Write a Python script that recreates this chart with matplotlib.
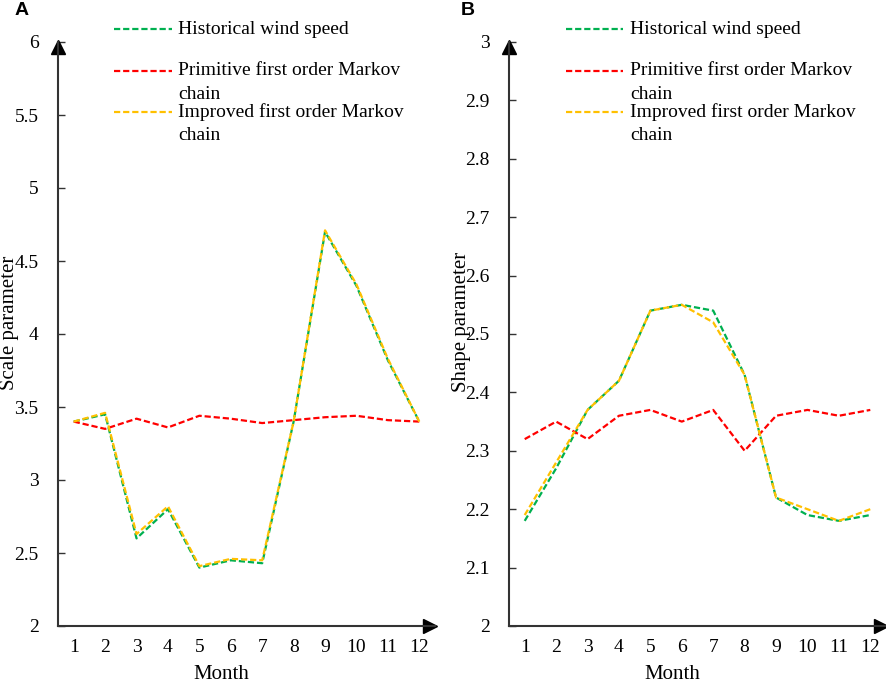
import numpy as np
import matplotlib
matplotlib.use("Agg")
import matplotlib.pyplot as plt
from matplotlib.lines import Line2D
from matplotlib.ticker import FormatStrFormatter
import matplotlib.transforms as mtrans

plt.rcParams['font.family'] = ['Liberation Serif', 'DejaVu Serif']

months = list(range(1, 13))

# panel A: scale parameter
scale_hist = [3.40, 3.45, 2.60, 2.80, 2.40, 2.45, 2.43, 3.40, 4.70, 4.33, 3.82, 3.40]
scale_prim = [3.40, 3.35, 3.42, 3.36, 3.44, 3.42, 3.39, 3.41, 3.43, 3.44, 3.41, 3.40]
scale_impr = [3.40, 3.46, 2.63, 2.82, 2.41, 2.46, 2.45, 3.40, 4.71, 4.34, 3.83, 3.40]

# panel B: shape parameter
shape_hist = [2.18, 2.27, 2.37, 2.42, 2.54, 2.55, 2.54, 2.43, 2.22, 2.19, 2.18, 2.19]
shape_prim = [2.32, 2.35, 2.32, 2.36, 2.37, 2.35, 2.37, 2.30, 2.36, 2.37, 2.36, 2.37]
shape_impr = [2.19, 2.28, 2.37, 2.42, 2.54, 2.55, 2.52, 2.43, 2.22, 2.20, 2.18, 2.20]

labels = ["Historical wind speed",
          "Primitive first order Markov\nchain",
          "Improved first order Markov\nchain"]
colors = ["#00B050", "#FF0000", "#FFC000"]

W, H = 886, 682
fig = plt.figure(figsize=(W / 100, H / 100), dpi=100)

panels = [
    dict(left=58, right=435, data=[scale_hist, scale_prim, scale_impr],
         ylim=(2, 6), step=0.5, ylabel="Scale parameter", tag="A", tagx=15,
         leg_x0=114, leg_x1=172, txt_x=178, ylab_x=-0.103),
    dict(left=509, right=886, data=[shape_hist, shape_prim, shape_impr],
         ylim=(2, 3), step=0.1, ylabel="Shape parameter", tag="B", tagx=461,
         leg_x0=566, leg_x1=623, txt_x=630, ylab_x=-0.100),
]

top_px, bot_px = 42, 626
spine_col = "#333333"
dash = (2.8, 1.3)

for p in panels:
    ax = fig.add_axes([p["left"] / W, 1 - bot_px / H,
                       (p["right"] - p["left"]) / W, (bot_px - top_px) / H])
    for ys, c in zip(p["data"], colors):
        ax.plot(months, ys, color=c, lw=1.6, dashes=dash)
    ax.set_xlim(0.5, 12.5)
    ax.set_ylim(*p["ylim"])
    ax.set_xticks(months)
    ax.set_yticks(np.arange(p["ylim"][0], p["ylim"][1] + p["step"] / 2, p["step"]))
    ax.yaxis.set_major_formatter(FormatStrFormatter('%g'))
    for s in ["top", "right"]:
        ax.spines[s].set_visible(False)
    for s in ["left", "bottom"]:
        ax.spines[s].set_color(spine_col)
        ax.spines[s].set_linewidth(1.5)
    ax.tick_params(axis='y', direction='in', length=5, width=1, color=spine_col,
                   pad=14, labelsize=14)
    ax.tick_params(axis='x', length=0, pad=9, labelsize=14)
    ax.set_xlabel("Month", fontsize=15)
    ax.xaxis.set_label_coords(0.432, -0.066)
    ax.set_ylabel(p["ylabel"], fontsize=15)
    ax.yaxis.set_label_coords(p["ylab_x"], 0.52)

    # arrow heads on the axes
    off_up = mtrans.ScaledTranslation(0, -5 / 100, fig.dpi_scale_trans)
    off_rt = mtrans.ScaledTranslation(-5 / 100, 0, fig.dpi_scale_trans)
    ax.plot(0, 1, marker="^", color="black", ms=10, clip_on=False,
            transform=ax.transAxes + off_up)
    ax.plot(1, 0, marker=">", color="black", ms=10, clip_on=False,
            transform=ax.transAxes + off_rt)

    # legend drawn per entry with fixed pitch
    for i, (lab, c) in enumerate(zip(labels, colors)):
        yy = 1 - (29.3 + 41.2 * i) / H
        fig.add_artist(Line2D([p["leg_x0"] / W, p["leg_x1"] / W], [yy, yy],
                              color=c, lw=1.6, dashes=dash))
        lines = lab.split("\n")
        for j, ln in enumerate(lines):
            fig.text(p["txt_x"] / W, yy - j * 24 / H, ln, fontsize=14,
                     va="center", ha="left")

    fig.text(p["tagx"] / W, 1 - 2 / H, p["tag"], fontsize=14, fontweight="bold",
             family="Liberation Sans", va="top", ha="left")

fig.savefig("out.png", dpi=100)
